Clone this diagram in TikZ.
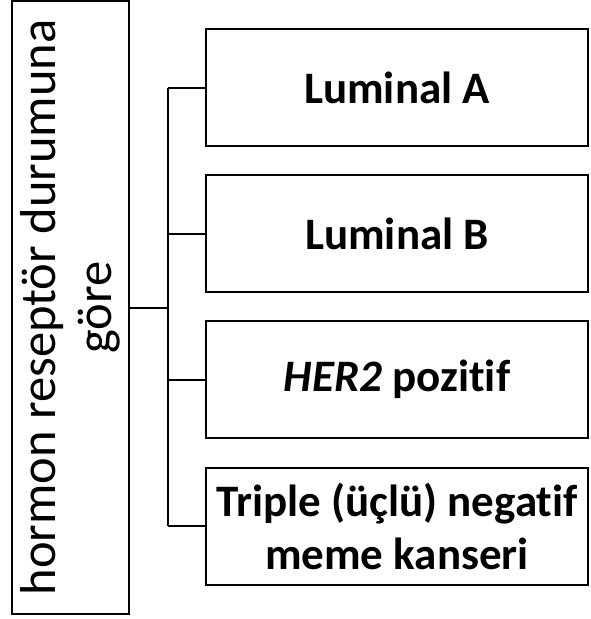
\documentclass[tikz,border=0pt]{standalone}
\usepackage{fontspec}
\setmainfont{Carlito}[Ligatures=NoCommon]
\usetikzlibrary{positioning}

\tikzset{
  treebox/.style={draw=black,line width=2pt,minimum width=382pt,minimum height=117pt,inner sep=0pt,align=center,font=\fontsize{45}{53}\selectfont\bfseries},
  rootbox/.style={draw=black,line width=2pt,rotate=90,minimum width=613pt,minimum height=117pt,inner sep=0pt,align=center,font=\fontsize{50.5}{56}\selectfont},
  branch/.style={line width=2pt}
}

\begin{document}
\begin{tikzpicture}[x=1pt,y=-1pt]
\useasboundingbox (0,0) rectangle (590,619);

\node[rootbox] (root) at (70.5,307.5) {hormon reseptör durumuna\\göre};

\node[treebox] (lumA) at (397,87.5) {Luminal A};
\node[treebox] (lumB) at (397,233.5) {Luminal B};
\node[treebox] (her) at (397,379.5) {\textit{HER2} pozitif};
\node[treebox] (neg) at (397,526) {Triple (üçlü) negatif\\meme kanseri};

\coordinate (hub) at (168,307.5);
\draw[branch] (root.south) -- (hub);
\draw[branch] (hub |- lumA.west) -- (hub |- neg.west);
\draw[branch] (hub |- lumA.west) -- (lumA.west);
\draw[branch] (hub |- lumB.west) -- (lumB.west);
\draw[branch] (hub |- her.west) -- (her.west);
\draw[branch] (hub |- neg.west) -- (neg.west);

\end{tikzpicture}
\end{document}
